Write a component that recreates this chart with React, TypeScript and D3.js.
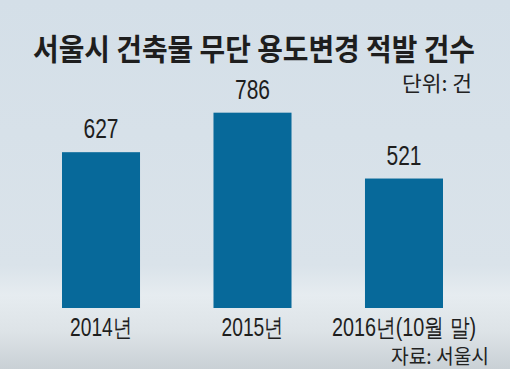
import React from "react";
import * as d3 from "d3";

const categories = ["2014년", "2015년", "2016년(10월 말)"];
const values = [627, 786, 521];
const valueLabels = ["627", "786", "521"];
const title = "서울시 건축물 무단 용도변경 적발 건수";
const unitText = "단위: 건";
const sourceText = "자료: 서울시";

const W = 510;
const H = 369;

export default function App() {
  const x = d3.scaleBand<string>().domain(categories).range([62, 443]).paddingInner(0.485).paddingOuter(0);
  const y = d3.scaleLinear().domain([0, 800]).range([308, 308 - 800 * 0.2485]);
  const catWidths = [62, 62, 144];
  const hangul = "'Noto Sans CJK KR', 'Noto Sans', sans-serif";
  const digitFont = "'Liberation Sans Narrow', 'Liberation Sans', Arial, sans-serif";
  return (
    <svg width={W} height={H} viewBox={`0 0 ${W} ${H}`} style={{ position: "absolute", left: 0, top: 0 }}>
      <defs>
        <linearGradient id="bg" x1="0" y1="0" x2="0" y2="1">
          <stop offset="0" stopColor="#d4dfe8" />
          <stop offset="0.72" stopColor="#dae3ea" />
          <stop offset="0.8" stopColor="#e6ecf0" />
          <stop offset="0.9" stopColor="#dde3e7" />
          <stop offset="1" stopColor="#c9d0d5" />
        </linearGradient>
      </defs>
      <rect x={0} y={0} width={W} height={H} fill="url(#bg)" />
      <text x={254} y={60} textAnchor="middle" fontFamily={hangul} fontWeight={700} fontSize={30} fill="#1e1e1e" textLength={442} lengthAdjust="spacingAndGlyphs">{title}</text>
      <text x={472} y={91} textAnchor="end" fontFamily={hangul} fontSize={21} fill="#222" textLength={70} lengthAdjust="spacingAndGlyphs">{unitText}</text>
      {categories.map((c, i) => {
        const bx = x(c)!;
        const bw = x.bandwidth();
        const cx = bx + bw / 2;
        return (
          <g key={c}>
            <rect x={bx} y={y(values[i])} width={bw} height={y(0) - y(values[i])} fill="#07699a" />
            <text x={cx} y={y(values[i]) - 14} textAnchor="middle" fontFamily={digitFont} fontSize={28} fill="#1e1e1e" textLength={35} lengthAdjust="spacingAndGlyphs">{valueLabels[i]}</text>
            <text x={cx} y={336} textAnchor="middle" fontFamily={digitFont} fontSize={25} fill="#1e1e1e" textLength={catWidths[i]} lengthAdjust="spacingAndGlyphs">{c}</text>
          </g>
        );
      })}
      <text x={489} y={364} textAnchor="end" fontFamily={hangul} fontSize={20} fill="#222" textLength={98} lengthAdjust="spacingAndGlyphs">{sourceText}</text>
    </svg>
  );
}
